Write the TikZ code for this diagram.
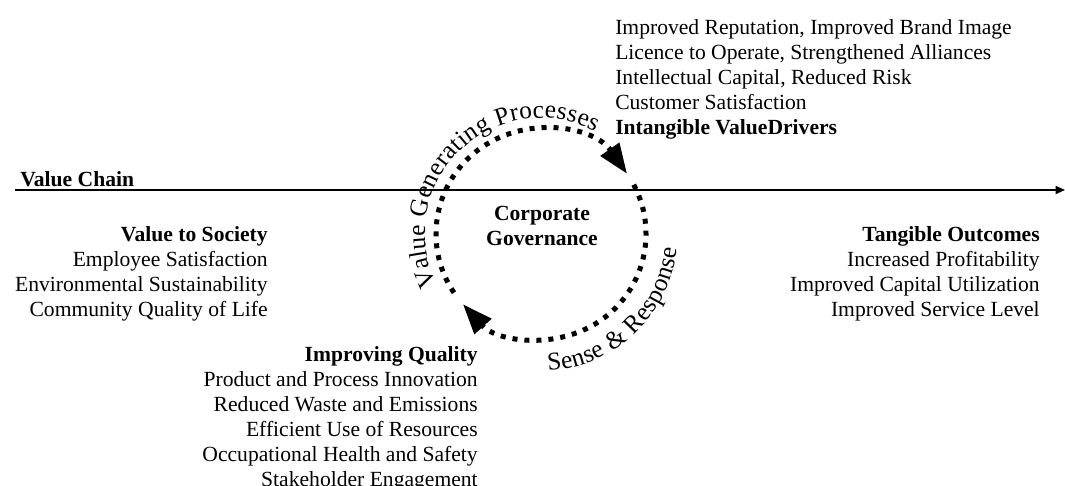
\documentclass[tikz,border=0pt]{standalone}
\usepackage{fontspec}
\setmainfont{Liberation Serif}
\usetikzlibrary{arrows.meta, positioning, calc, decorations.text}

\newcommand{\blockfont}{\fontsize{16.2}{18.75}\selectfont}
\newcommand{\arcfont}{\fontsize{19}{22}\selectfont}

\begin{document}
\begin{tikzpicture}[x=0.75pt, y=0.75pt]
    \tikzstyle{block} = [inner sep=0pt, font=\blockfont]
    \tikzstyle{cycle} = [line width=3.75pt, dash pattern=on 3.75pt off 5.25pt, -{Triangle[length=22.5pt, width=16.5pt]}]
    \tikzstyle{arctext} = [decorate, decoration={text along path, text align=fit to path}]
    \tikzstyle{arrow} = [line width=1.2pt, -{Triangle[length=7pt, width=6pt]}]

    \useasboundingbox (0,0) rectangle (1065,-486);

    \coordinate (hub) at (541,-234);
    \coordinate (chainstart) at (15,-190);
    \coordinate (chainend) at (1065,-190);

    \draw[arrow] (chainstart) -- (chainend);
    \node[block, anchor=base west] (chain) at (20,-186) {\textbf{Value Chain}};

    \node[block, font=\blockfont\bfseries, align=center] (governance) at (542,-226) {Corporate\\Governance};

    % cycle round the hub
    \draw[cycle] (hub) ++(214:105) arc[start angle=214, end angle=35, radius=105];
    \draw[cycle] (hub) ++(28:105) arc[start angle=28, end angle=-138, radius=105];

    \path[arctext, decoration={text={|\arcfont|Value Generating Processes}}]
        (hub) ++(206:116) arc[start angle=206, end angle=62, radius=116];
    \path[arctext, decoration={text={|\arcfont|Sense {\&} Response}}]
        (hub) ++(-87:137) arc[start angle=-87, end angle=-6, radius=137];

    \node[block, anchor=north west, align=left] (drivers) at (615,-19) {Improved Reputation, Improved Brand Image\\Licence to Operate, Strengthened Alliances\\Intellectual Capital, Reduced Risk\\Customer Satisfaction\\\textbf{Intangible ValueDrivers}};
    \node[block, anchor=north east, align=right] (society) at (268,-226) {\textbf{Value to Society}\\Employee Satisfaction\\Environmental Sustainability\\Community Quality of Life};
    \node[block, anchor=north east, align=right] (outcomes) at (1040,-226) {\textbf{Tangible Outcomes}\\Increased Profitability\\Improved Capital Utilization\\Improved Service Level};
    \node[block, anchor=north east, align=right] (quality) at (478,-346) {\textbf{Improving Quality}\\Product and Process Innovation\\Reduced Waste and Emissions\\Efficient Use of Resources\\Occupational Health and Safety\\Stakeholder Engagement};
\end{tikzpicture}
\end{document}
